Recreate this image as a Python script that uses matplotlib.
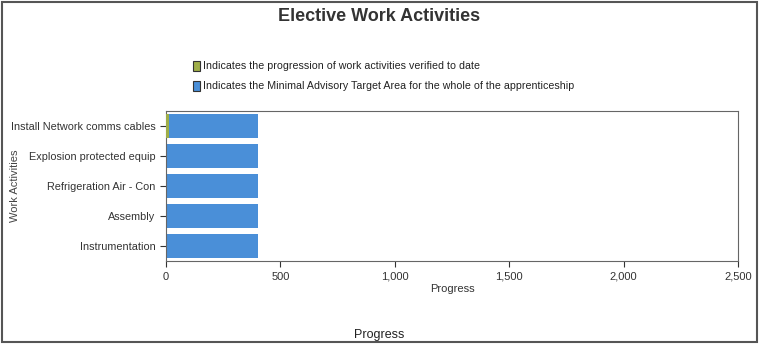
import matplotlib.pyplot as plt
from matplotlib.patches import Rectangle
from matplotlib.ticker import FuncFormatter

plt.rcParams['font.family'] = ['Liberation Sans', 'DejaVu Sans']

activities = ["Install Network comms cables", "Explosion protected equip",
              "Refrigeration Air - Con", "Assembly", "Instrumentation"]
target = [400, 400, 400, 400, 400]
verified = [12, 0, 0, 0, 0]
xticks = [0, 500, 1000, 1500, 2000, 2500]

blue = '#4a8fd8'
green = '#9fae48'

fig = plt.figure(figsize=(7.59, 3.44), dpi=100)
fig.patches.append(Rectangle((0.003, 0.006), 0.994, 0.988, transform=fig.transFigure,
                             fill=False, edgecolor='#555555', lw=1.5))

ax = fig.add_axes([0.2187, 0.241, 0.7536, 0.436])
ypos = list(range(len(activities)))[::-1]
ax.barh(ypos, target, height=0.8, color=blue, zorder=2)
ax.barh(ypos, verified, height=0.8, color=green, zorder=3)

ax.set_xlim(0, 2500)
ax.set_ylim(-0.5, 4.5)
ax.set_xticks(xticks)
ax.xaxis.set_major_formatter(FuncFormatter(lambda v, p: f"{int(v):,}"))
ax.set_yticks(ypos)
ax.set_yticklabels(activities)
ax.tick_params(axis='y', labelsize=7.8, colors='#333333', length=4)
ax.tick_params(axis='x', labelsize=8, colors='#333333', length=4)
for s in ax.spines.values():
    s.set_color('#666666')
ax.set_xlabel("Progress", fontsize=8, color='#333333', labelpad=2)
fig.text(0.02, 0.459, "Work Activities", rotation=90, ha='center', va='center',
         fontsize=8, color='#444444')

fig.text(0.5, 0.952, "Elective Work Activities", ha='center', va='center',
         fontsize=13, fontweight='bold', color='#333333')

# legend entries
for i, (col, txt) in enumerate([(green, "Indicates the progression of work activities verified to date"),
                                (blue, "Indicates the Minimal Advisory Target Area for the whole of the apprenticeship")]):
    y = 0.808 - i * 0.058
    fig.patches.append(Rectangle((0.254, y - 0.015), 0.009, 0.03, transform=fig.transFigure,
                                 facecolor=col, edgecolor='#333333', lw=0.8))
    fig.text(0.267, y, txt, ha='left', va='center', fontsize=7.7, color='#222222')

fig.text(0.5, 0.025, "Progress", ha='center', va='center', fontsize=9, color='#222222')

fig.savefig("out.png", dpi=100)
